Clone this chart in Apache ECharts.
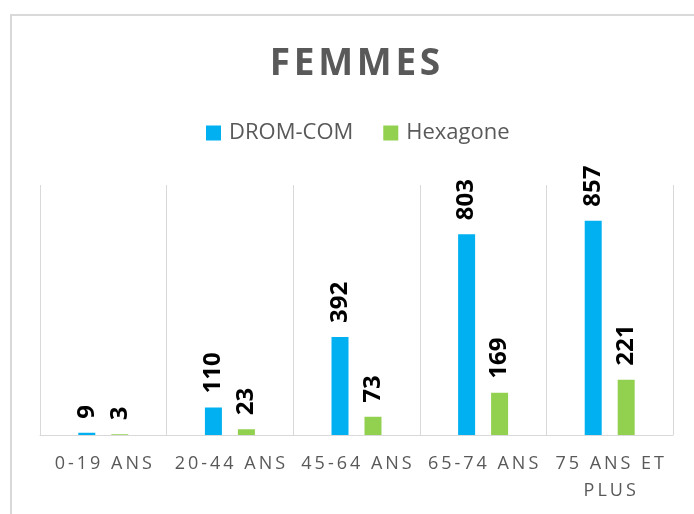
<!DOCTYPE html>
<html>
<head>
<meta charset="utf-8">
<script src="https://cdn.jsdelivr.net/npm/echarts@6/dist/echarts.min.js"></script>
<style>
  html, body { margin: 0; padding: 0; background: #fff; }
  #main { width: 694px; height: 514px; }
</style>
</head>
<body>
<div id="main"></div>
<script>
// donnees
var categories = ['0-19 ANS', '20-44 ANS', '45-64 ANS', '65-74 ANS', '75 ANS ET PLUS'];
var dromCom = [9, 110, 392, 803, 857];
var hexagone = [3, 23, 73, 169, 221];
var seriesNames = ['DROM-COM', 'Hexagone'];

// espacement des lettres (pas de letterSpacing en canvas)
function spaced(s, sp) {
    return s.split('').join(sp);
}

var myChart = echarts.init(document.getElementById('main'));

var labelStyle = {
    show: true,
    position: 'top',
    rotate: 90,
    align: 'left',
    verticalAlign: 'middle',
    distance: 14,
    color: '#000',
    fontWeight: 'bold',
    fontSize: 24,
    fontFamily: 'Open Sans'
};

var option = {
    backgroundColor: '#fff',
    graphic: [{
        type: 'rect',
        shape: { x: 11, y: 15, width: 720, height: 520 },
        style: { fill: 'none', stroke: '#d9d9d9', lineWidth: 2 },
        silent: true
    }],
    title: {
        text: spaced('FEMMES', '\u200a'),
        left: 350,
        textAlign: 'center',
        top: 41,
        textStyle: {
            color: '#595959',
            fontSize: 37,
            fontWeight: 'bold',
            fontFamily: 'Open Sans'
        }
    },
    legend: {
        top: 117,
        left: 201,
        orient: 'horizontal',
        icon: 'rect',
        itemWidth: 15,
        itemHeight: 15,
        itemGap: 30,
        data: seriesNames,
        textStyle: {
            color: '#595959',
            fontSize: 22,
            fontFamily: 'Open Sans',
            padding: [0, 0, 0, 3]
        }
    },
    grid: {
        left: 40,
        right: 21,
        top: 185,
        bottom: 79,
        containLabel: false
    },
    xAxis: {
        type: 'category',
        data: categories,
        axisLine: { lineStyle: { color: '#d9d9d9', width: 1 } },
        axisTick: { show: false },
        splitLine: { show: true, lineStyle: { color: '#d9d9d9', width: 1 } },
        axisLabel: {
            color: '#595959',
            fontSize: 18,
            fontFamily: 'Open Sans',
            margin: 15,
            lineHeight: 27,
            interval: 0,
            formatter: function (v) {
                return v.replace(' ET ', ' ET\n').split('\n').map(function (l) {
                    return spaced(l, '\u2009');
                }).join('\n');
            }
        }
    },
    yAxis: {
        type: 'value',
        min: 0,
        max: 1000,
        show: false,
        splitLine: { show: false }
    },
    series: [{
        name: seriesNames[0],
        type: 'bar',
        data: dromCom,
        barWidth: 17,
        barGap: '94%',
        itemStyle: { color: '#00b0f0' },
        label: labelStyle
    }, {
        name: seriesNames[1],
        type: 'bar',
        data: hexagone,
        barWidth: 17,
        barGap: '94%',
        itemStyle: { color: '#92d050' },
        label: labelStyle
    }]
};

myChart.setOption(option);
</script>
</body>
</html>
